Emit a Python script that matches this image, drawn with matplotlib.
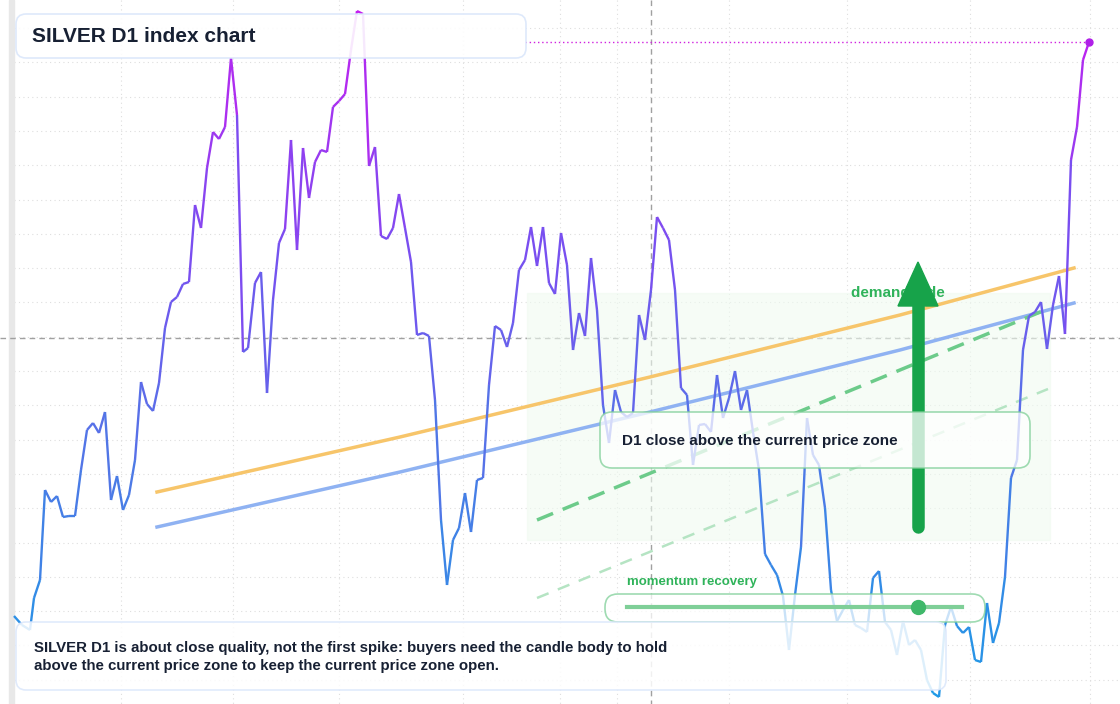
import numpy as np
import matplotlib.pyplot as plt
from matplotlib.collections import LineCollection
from matplotlib.colors import LinearSegmentedColormap
from matplotlib.patches import FancyBboxPatch, Rectangle

plt.rcParams["font.family"] = ["Liberation Sans", "DejaVu Sans"]

# chart values (plot units, larger = lower on screen)
xs = [14, 22, 30, 34, 40, 45, 51, 57, 63, 69, 75, 81, 87, 93, 99, 105, 111, 117, 123, 129,
      135, 141, 147, 153, 159, 165, 171, 177, 183, 189, 195, 201, 207, 213, 219, 225, 231, 237,
      243, 248, 255, 261, 267, 273, 279, 285, 291, 297, 303, 309, 315, 321, 327, 333, 339, 345,
      351, 357, 363, 369, 375, 381, 387, 393, 399, 405, 411, 417, 423, 429, 435, 441, 447, 453,
      459, 465, 471, 477, 483, 489, 495, 501, 507, 513, 519, 525, 531, 537, 543, 549, 555, 561,
      567, 573, 579, 585, 591, 597, 603, 609, 615, 621, 627, 633, 639, 645, 651, 657, 663, 669,
      675, 681, 687, 693, 699, 705, 711, 717, 723, 729, 735, 741, 747, 753, 759, 765, 771, 777,
      783, 789, 795, 801, 807, 813, 819, 825, 831, 837, 843, 849, 855, 861, 867, 873, 879, 885,
      891, 897, 903, 909, 915, 921, 927, 933, 939, 945, 951, 957, 963, 969, 975, 981, 987, 993,
      999, 1005, 1011, 1017, 1023, 1029, 1035, 1041, 1047, 1053, 1059, 1065, 1071, 1077, 1083, 1089]
ys = [616, 625, 630, 598, 580, 490, 502, 496, 517, 516, 516, 470, 430, 423, 433, 412, 500, 476, 510, 495,
      460, 382, 404, 411, 383, 328, 302, 297, 284, 282, 205, 228, 168, 132, 139, 127, 58, 115,
      352, 348, 283, 272, 393, 300, 243, 229, 140, 250, 148, 198, 162, 150, 152, 107, 101, 94,
      50, 11, 14, 166, 147, 236, 239, 228, 194, 228, 262, 335, 333, 336, 400, 520, 585, 540,
      528, 493, 532, 480, 478, 385, 326, 330, 347, 323, 270, 260, 227, 266, 227, 283, 294, 233,
      265, 350, 313, 336, 258, 310, 405, 443, 390, 412, 417, 413, 315, 340, 290, 217, 228, 240,
      290, 388, 395, 465, 425, 424, 432, 375, 418, 398, 371, 410, 390, 432, 470, 554, 565, 575,
      596, 650, 595, 547, 418, 455, 465, 508, 590, 621, 610, 600, 625, 628, 632, 578, 571, 622,
      630, 655, 621, 645, 640, 650, 680, 693, 697, 625, 607, 626, 633, 627, 660, 662, 603, 643,
      623, 577, 478, 460, 350, 316, 312, 302, 349, 305, 276, 334, 160, 127, 60, 42]

trend_x = [157, 400, 650, 900, 1074]
orange_y = [492, 437, 377, 315, 268]
blue_y = [527, 472, 412, 350, 303]
green_x = [537, 1050]
green_y = [520, 308]
light_x = [537, 1048]
light_y = [598, 389]

fig = plt.figure(figsize=(11.2, 7.04), dpi=100)
ax = fig.add_axes([0, 0, 1, 1])
ax.set_xlim(0, 1120)
ax.set_ylim(704, 0)
ax.axis("off")

# grid
for gx in [121, 233, 339, 463, 560, 617, 729, 847, 970, 1090]:
    ax.plot([gx, gx], [0, 704], color="#dedede", lw=0.8, ls=(0, (1, 3)), zorder=0)
for gy in np.arange(28, 704, 34.3):
    ax.plot([14, 1120], [gy, gy], color="#dedede", lw=0.8, ls=(0, (1, 3)), zorder=0)
ax.add_patch(Rectangle((9, 0), 5, 704, color="#e8e8e8", zorder=1))

ax.plot([0, 1120], [338, 338], color="#a0a0a0", lw=1, ls=(0, (4, 3)), zorder=1)
ax.plot([651, 651], [0, 704], color="#a0a0a0", lw=1, ls=(0, (4, 3)), zorder=1)
ax.plot([525, 1089], [42, 42], color="#d020e0", lw=1, ls=(0, (1, 2)), zorder=1)

# demand zone
ax.add_patch(Rectangle((527, 293), 523, 247, color="#f0fbf1", alpha=0.6, zorder=1))

ax.plot(trend_x, orange_y, color="#f7c56a", lw=2.5, zorder=3)
ax.plot(trend_x, blue_y, color="#8fb2f2", lw=2.5, zorder=3)
ax.plot(green_x, green_y, color="#6ccb8a", lw=2.5, ls=(0, (5, 3)), zorder=3)
ax.plot(light_x, light_y, color="#b5e4c3", lw=1.8, ls=(0, (5, 4)), zorder=3)

# price line coloured by level
pts = np.column_stack([xs, ys]).reshape(-1, 1, 2)
segs = np.concatenate([pts[:-1], pts[1:]], axis=1)
cmap = LinearSegmentedColormap.from_list("px", ["#1e9ae6", "#4f78e6", "#7a4ef0", "#c41ff0"])
lc = LineCollection(segs, cmap=cmap, lw=1.7, zorder=4)
lc.set_array(-(np.array(ys[:-1]) + np.array(ys[1:])) / 2)
lc.set_clim(-690, -20)
ax.add_collection(lc)
ax.plot(xs[-1], ys[-1], "o", color="#b020e8", ms=5, zorder=5)

ax.text(851, 293, "demand side", color="#2fb35a", fontsize=11, fontweight="bold", va="center", zorder=5)
ax.plot([918, 918], [300, 527], color="#17a34a", lw=9, solid_capstyle="round", zorder=6)
ax.arrow(918, 310, 0, -48, width=0.5, head_width=40, head_length=44, length_includes_head=True,
         color="#17a34a", zorder=6)


def box(x0, y0, x1, y1, edge, alpha=0.85, r=10):
    ax.add_patch(FancyBboxPatch((x0 + r, y0 + r), x1 - x0 - 2 * r, y1 - y0 - 2 * r,
                                boxstyle=f"round,pad={r}", fc="white", ec=edge, lw=1.2,
                                alpha=alpha, zorder=7))


box(16, 14, 526, 58, "#dbe7fb", alpha=0.9)
ax.text(32, 36, "SILVER D1 index chart", fontsize=15, fontweight="bold", color="#172033",
        va="center", zorder=8)

box(600, 412, 1030, 468, "#7fcf98", alpha=0.75, r=12)
ax.text(622, 441, "D1 close above the current price zone", fontsize=11, fontweight="bold",
        color="#172033", va="center", zorder=8)

box(605, 594, 985, 622, "#7fcf98", alpha=0.75, r=13)
ax.text(627, 582, "momentum recovery", fontsize=9.5, fontweight="bold", color="#2fb35a",
        va="center", zorder=8)
ax.plot([627, 962], [607, 607], color="#7fcf98", lw=3, zorder=8)
ax.plot(918, 607, "o", color="#3fb86a", ms=10, zorder=9)

box(16, 622, 946, 690, "#dbe7fb", alpha=0.85, r=10)
ax.text(34, 657, "SILVER D1 is about close quality, not the first spike: buyers need the candle body to hold\n"
        "above the current price zone to keep the current price zone open.",
        fontsize=10.8, fontweight="bold", color="#172033", va="center", linespacing=1.45, zorder=8)

fig.savefig("out.png", dpi=100)
